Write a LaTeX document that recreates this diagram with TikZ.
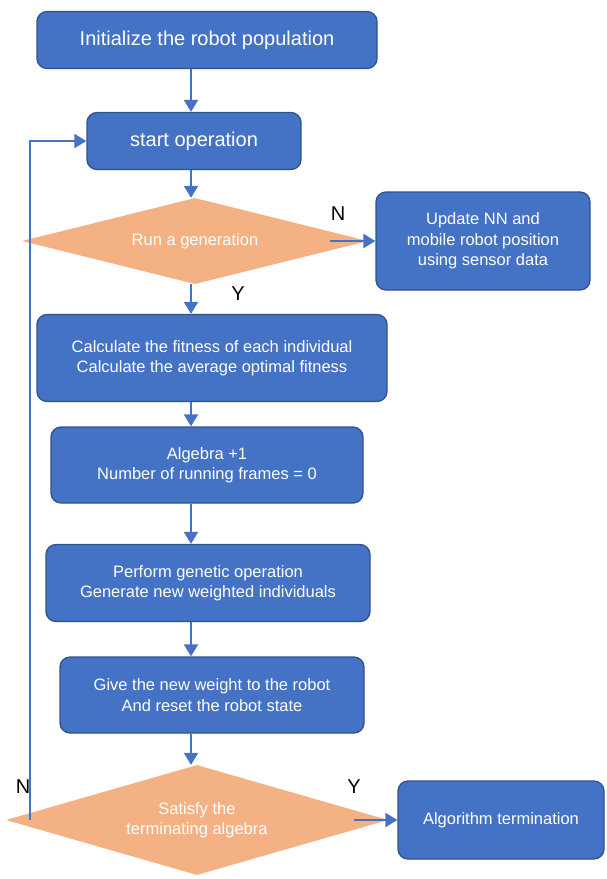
\documentclass[tikz,border=0pt]{standalone}
\usepackage{fontspec}
\setmainfont{Liberation Sans}
\usetikzlibrary{shapes.geometric,arrows.meta}
\definecolor{boxblue}{HTML}{4472C4}
\definecolor{boxedge}{HTML}{2F528F}
\definecolor{decorange}{HTML}{F4B183}
\begin{document}
\begin{tikzpicture}[x=1pt,y=-1pt,
  stepbox/.style={draw=boxedge, line width=1.3pt, fill=boxblue, rounded corners=10pt,
    text=white, align=center, inner sep=2pt, font=\fontsize{16.5}{20.5}\selectfont},
  bigbox/.style={stepbox, font=\fontsize{20}{24}\selectfont},
  decision/.style={shape=diamond, fill=decorange, aspect=3.5, inner sep=0pt,
    text=white, align=center, font=\fontsize{16.5}{20.5}\selectfont},
  arr/.style={draw=boxblue, line width=2.2pt, -{Triangle[length=12pt,width=14pt]}},
  lbl/.style={font=\fontsize{20}{24}\selectfont}]
\useasboundingbox (0,0) rectangle (606,879);
\coordinate (spine) at (191,0);
\node[bigbox, minimum width=340pt, minimum height=57pt] (init) at (207,40)
{Initialize the robot population};
\node[bigbox, minimum width=214pt, minimum height=57pt] (start) at (194,141)
{start operation};
\node[decision, minimum width=346pt, minimum height=86pt] (gen) at (195,241)
{Run a generation};
\node[stepbox, minimum width=214pt, minimum height=98pt] (update) at (483,241)
{Update NN and\\mobile robot position\\using sensor data};
\node[stepbox, minimum width=350pt, minimum height=87pt] (calc) at (212,358)
{Calculate the fitness of each individual\\Calculate the average optimal fitness};
\node[stepbox, minimum width=312pt, minimum height=76pt] (alg) at (207,465)
{Algebra +1\\Number of running frames = 0};
\node[stepbox, minimum width=324pt, minimum height=77pt] (perf) at (208,583)
{Perform genetic operation\\Generate new weighted individuals};
\node[stepbox, minimum width=304pt, minimum height=76pt] (give) at (212,695)
{Give the new weight to the robot\\And reset the robot state};
\node[decision, minimum width=382pt, minimum height=110pt] (sat) at (197,820)
{Satisfy the\\terminating algebra};
\node[stepbox, minimum width=206pt, minimum height=78pt] (term) at (501,820)
{Algorithm termination};
% labels
\node[lbl] (gen no) at (338,214) {N};
\node[lbl] (gen yes) at (238,294) {Y};
\node[lbl] (sat no) at (23,787) {N};
\node[lbl] (sat yes) at (354,787) {Y};
% main flow
\draw[arr] (init.south -| spine) -- (start.north -| spine);
\draw[arr] (start.south -| spine) -- (gen.north -| spine);
\draw[arr] (gen.south -| spine) -- (calc.north -| spine);
\draw[arr] (calc.south -| spine) -- (alg.north -| spine);
\draw[arr] (alg.south -| spine) -- (perf.north -| spine);
\draw[arr] (perf.south -| spine) -- (give.north -| spine);
\draw[arr] (give.south -| spine) -- (sat.north -| spine);
% branches
\draw[arr] ([xshift=-38pt]gen.east) -- (update.west);
\draw[arr] ([xshift=-34pt]sat.east) -- (term.west);
\draw[arr] ([xshift=24pt]sat.west) |- (start.west);
\end{tikzpicture}
\end{document}
